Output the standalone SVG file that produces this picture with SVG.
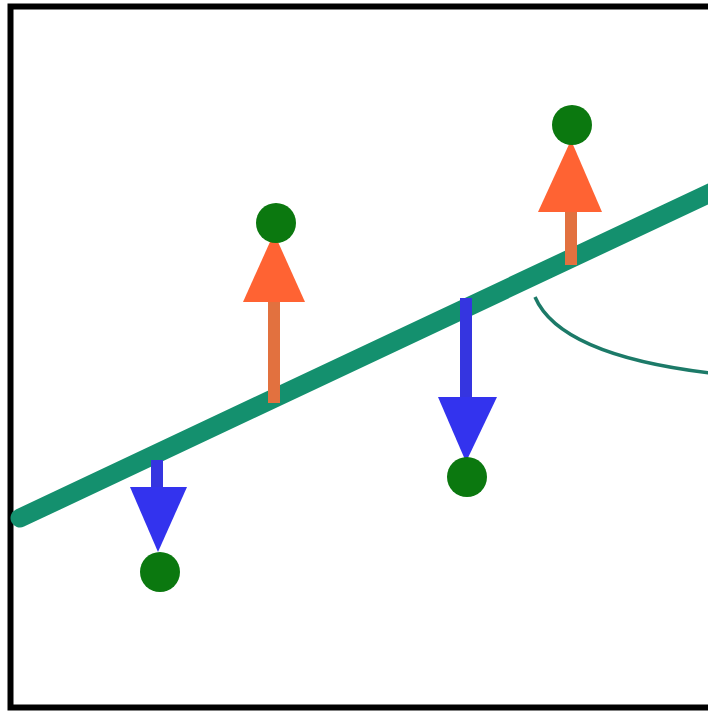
<svg xmlns="http://www.w3.org/2000/svg" width="708" height="711" viewBox="0 0 708 711">
<style>
.dot{fill:#0b780f}
.up-shaft{stroke:#e2713f;stroke-width:12}
.up-head{fill:#ff6333}
.dn-shaft{stroke:#3535e0;stroke-width:12}
.dn-head{fill:#3333ee}
</style>
<rect width="708" height="711" fill="#fff"/>
<rect x="10.5" y="6.5" width="720" height="701" fill="none" stroke="#000" stroke-width="6"/>
<g id="connectors">
<line x1="20" y1="518" x2="712" y2="192" stroke="#14906e" stroke-width="19" stroke-linecap="round"/>
<path d="M535,297 Q560,355 710,373" fill="none" stroke="#1c7a68" stroke-width="3.5"/>
</g>
<g id="arrow1">
<line class="dn-shaft" x1="157" y1="460" x2="157" y2="490"/>
<polygon class="dn-head" points="130,487 187,487 158,552"/>
<circle class="dot" cx="160" cy="572" r="20"/>
</g>
<g id="arrow2">
<line class="up-shaft" x1="274" y1="403" x2="274" y2="298"/>
<polygon class="up-head" points="243,302 305,302 274,233"/>
<circle class="dot" cx="276" cy="223" r="20"/>
</g>
<g id="arrow3">
<line class="dn-shaft" x1="466" y1="298" x2="466" y2="400"/>
<polygon class="dn-head" points="438,397 497,397 466,462"/>
<circle class="dot" cx="467" cy="477" r="20"/>
</g>
<g id="arrow4">
<line class="up-shaft" x1="571" y1="265" x2="571" y2="208"/>
<polygon class="up-head" points="538,212 602,212 571,140"/>
<circle class="dot" cx="572" cy="125" r="20"/>
</g>
</svg>
